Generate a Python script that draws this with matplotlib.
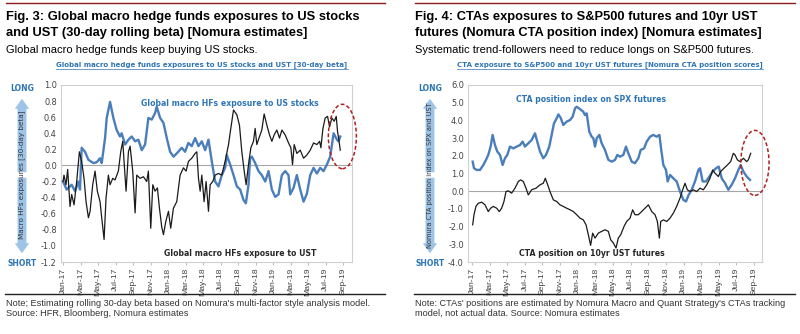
import matplotlib.pyplot as plt
from matplotlib.patches import Ellipse, FancyArrowPatch
from matplotlib.lines import Line2D

# ---------------------------------------------------------------------- #
# data (x = months since Jan-2017)

tick_labels = ['Jan-17', 'Mar-17', 'May-17', 'Jul-17', 'Sep-17', 'Nov-17',
               'Jan-18', 'Mar-18', 'May-18', 'Jul-18', 'Sep-18', 'Nov-18',
               'Jan-19', 'Mar-19', 'May-19', 'Jul-19', 'Sep-19']

# Fig. 3 - global macro HFs exposure to US stocks (blue)
hf_stk_x = [0.0, 0.42, 0.99, 1.37, 1.75, 1.94, 2.13, 2.51, 2.9, 3.47, 3.85,
            4.23, 4.42, 4.8, 4.99, 5.37, 5.75, 6.13, 6.51, 6.7, 7.09, 7.47,
            7.85, 8.23, 8.61, 8.99, 9.37, 9.75, 10.13, 10.51, 10.7, 11.09,
            11.47, 11.85, 12.23, 12.61, 12.99, 13.56, 13.94, 14.32, 14.7,
            15.09, 15.47, 15.85, 16.23, 16.61, 16.99, 17.37, 17.75, 18.13,
            18.51, 18.7, 19.09, 19.47, 19.85, 20.23, 20.61, 20.88, 21.18,
            21.37, 21.56, 21.94, 22.32, 22.7, 23.09, 23.47, 23.85, 24.23,
            24.61, 24.99, 25.37, 25.75, 25.94, 26.32, 26.7, 27.09, 27.47,
            27.85, 28.23, 28.61, 28.99, 29.37, 29.75, 30.13, 30.51, 30.9,
            31.28, 31.47, 31.66]
hf_stk_y = [-0.2, -0.3, -0.24, -0.32, -0.2, -0.3, 0.22, 0.17, 0.07, 0.03,
            0.04, 0.09, 0.03, 0.34, 0.59, 0.79, 0.59, 0.44, 0.36, 0.4, 0.26,
            0.32, 0.36, 0.3, 0.32, 0.19, 0.26, 0.59, 0.57, 0.65, 0.73, 0.59,
            0.53, 0.34, 0.17, 0.11, 0.15, 0.22, 0.17, 0.28, 0.24, 0.34, 0.24,
            0.3, 0.19, 0.32, 0.05, -0.2, -0.26, -0.12, -0.03, 0.13, 0.01,
            -0.12, -0.26, -0.3, -0.43, -0.47, -0.24, 0.09, 0.11, 0.03, -0.07,
            -0.12, -0.2, -0.07, -0.3, -0.39, -0.36, -0.12, -0.07, -0.12,
            -0.36, -0.28, -0.12, -0.3, -0.45, -0.35, -0.12, -0.03, -0.1,
            -0.03, -0.07, 0.01, 0.11, 0.4, 0.32, 0.3, 0.36]

# Fig. 3 - global macro HFs exposure to UST (black)
hf_ust_x = [0.0, 0.11, 0.34, 0.53, 0.8, 0.99, 1.26, 1.56, 1.87, 2.13, 2.4,
            2.63, 2.9, 3.09, 3.39, 3.66, 3.92, 4.23, 4.42, 4.69, 4.91, 5.18,
            5.37, 5.68, 5.94, 6.32, 6.59, 6.82, 6.97, 7.2, 7.47, 7.66, 7.96,
            8.23, 8.42, 8.8, 9.18, 9.56, 9.75, 10.02, 10.25, 10.51, 10.78,
            11.01, 11.28, 11.47, 11.73, 12.04, 12.3, 12.61, 12.99, 13.37,
            13.75, 14.06, 14.32, 14.7, 15.09, 15.28, 15.47, 15.66, 15.85,
            16.11, 16.34, 16.61, 16.8, 17.1, 17.37, 17.75, 18.13, 18.51, 18.9,
            19.16, 19.47, 19.85, 20.15, 20.42, 20.69, 20.91, 21.18, 21.45,
            21.75, 21.94, 22.13, 22.44, 22.7, 22.97, 23.28, 23.58, 23.85,
            24.11, 24.42, 24.72, 24.99, 25.37, 25.75, 26.02, 26.21, 26.4,
            26.7, 27.09, 27.47, 27.85, 28.23, 28.61, 28.99, 29.3, 29.45,
            29.68, 29.94, 30.21, 30.44, 30.7, 30.97, 31.2, 31.35, 31.5, 31.66]
hf_ust_y = [-0.2, -0.12, -0.24, -0.05, -0.51, -0.36, -0.49, -0.2, 0.17,
            0.05, -0.16, -0.45, -0.65, -0.57, -0.24, -0.07, -0.32, -0.45,
            -0.65, -0.92, -0.41, -0.12, -0.24, -0.16, -0.18, -0.07, 0.17, 0.3,
            0.05, -0.32, 0.17, 0.24, -0.07, -0.59, -0.12, -0.16, -0.14, -0.2,
            -0.07, -0.78, -0.24, -0.32, -0.28, -0.53, -0.77, -0.86, -0.7,
            -0.57, -0.78, -0.53, -0.45, -0.12, -0.03, -0.07, 0.05, 0.09, 0.15,
            0.17, -0.16, -0.32, -0.12, -0.45, -0.2, -0.57, -0.24, -0.2, -0.12,
            -0.1, -0.12, 0.05, 0.26, 0.46, 0.69, 0.63, 0.5, 0.17, -0.07,
            -0.24, 0.01, 0.22, 0.3, 0.46, 0.26, 0.36, 0.44, 0.64, 0.5, 0.38,
            0.3, 0.38, 0.44, 0.34, 0.44, 0.38, 0.28, 0.22, 0.01, 0.26, 0.15,
            0.19, 0.09, 0.13, 0.19, 0.28, 0.26, 0.3, 0.22, 0.46, 0.59, 0.61,
            0.48, 0.59, 0.55, 0.61, 0.42, 0.32, 0.19]

# Fig. 4 - CTA position index on SPX futures (blue)
cta_spx_x = [0.08, 0.23, 0.53, 0.91, 1.29, 1.59, 1.85, 2.12, 2.34, 2.61,
             2.87, 3.18, 3.48, 3.74, 4.01, 4.31, 4.69, 5.07, 5.45, 5.75, 6.01,
             6.39, 6.77, 7.15, 7.41, 7.72, 8.09, 8.4, 8.77, 9.04, 9.3, 9.61,
             9.8, 10.06, 10.36, 10.74, 11.12, 11.42, 11.69, 11.88, 12.25,
             12.63, 12.82, 13.01, 13.31, 13.58, 13.77, 13.96, 14.15, 14.45,
             14.71, 15.09, 15.47, 15.85, 16.23, 16.49, 16.79, 17.17, 17.47,
             17.74, 18.12, 18.49, 18.87, 19.14, 19.52, 19.82, 20.2, 20.57,
             20.95, 21.26, 21.45, 21.71, 22.01, 22.2, 22.47, 22.84, 23.22,
             23.6, 23.98, 24.28, 24.58, 24.92, 25.3, 25.68, 25.87, 26.17,
             26.55, 26.93, 27.31, 27.69, 27.99, 28.33, 28.71, 29.08, 29.46,
             29.84, 30.22, 30.48, 30.79, 31.16, 31.54]
cta_spx_y = [1.67, 1.3, 1.2, 1.2, 1.48, 1.77, 2.05, 2.52, 3.18, 2.61, 2.24,
             2.05, 1.48, 1.86, 2.05, 2.52, 2.42, 2.52, 2.61, 2.8, 2.52, 2.71,
             2.89, 3.27, 2.8, 2.24, 1.86, 2.05, 2.52, 3.18, 3.83, 4.12, 4.34,
             4.15, 3.74, 3.93, 4.02, 4.21, 4.68, 4.77, 4.64, 4.49, 4.3, 4.4,
             3.36, 3.08, 2.99, 2.52, 2.99, 3.18, 2.71, 2.33, 1.77, 1.67, 1.77,
             2.05, 1.95, 2.05, 2.52, 2.14, 1.67, 1.58, 1.86, 2.33, 2.42, 2.8,
             3.08, 3.18, 3.08, 3.18, 2.42, 1.48, 1.2, 0.55, 0.92, 0.73, 0.55,
             -0.02, -0.49, -0.58, -0.21, 0.08, 0.55, 1.2, 1.3, 0.55, 0.55,
             0.83, 1.11, 1.3, 1.39, 0.73, 0.45, 0.08, 0.36, 0.73, 1.2, 1.48,
             1.11, 0.83, 0.64]

# Fig. 4 - CTA position on 10yr UST futures (black)
cta_ust_x = [0.08, 0.23, 0.45, 0.72, 1.1, 1.48, 1.85, 2.12, 2.42, 2.8, 3.1,
             3.37, 3.63, 3.86, 4.12, 4.5, 4.88, 5.26, 5.52, 5.82, 6.13, 6.39,
             6.77, 7.26, 7.72, 8.09, 8.32, 8.59, 8.85, 9.23, 9.61, 9.98,
             10.36, 10.74, 11.12, 11.5, 11.88, 12.25, 12.63, 12.94, 13.2,
             13.46, 13.69, 13.96, 14.33, 14.71, 15.09, 15.47, 15.73, 16.04,
             16.34, 16.6, 16.87, 17.25, 17.55, 17.93, 18.23, 18.49, 18.87,
             19.25, 19.63, 20.01, 20.39, 20.77, 21.03, 21.26, 21.41, 21.71,
             22.09, 22.47, 22.84, 23.22, 23.6, 23.9, 24.17, 24.43, 24.74,
             25.11, 25.49, 25.87, 26.25, 26.63, 27.0, 27.31, 27.57, 27.95,
             28.21, 28.59, 28.97, 29.34, 29.65, 29.84, 30.11, 30.41, 30.79,
             31.16, 31.35, 31.62]
cta_ust_y = [-1.9, -1.33, -0.86, -0.68, -0.62, -0.77, -1.15, -0.96, -0.86,
             -0.96, -1.15, -0.96, -0.58, -0.02, 0.02, -0.11, 0.17, 0.55, 0.64,
             0.55, 0.17, -0.21, 0.08, 0.17, 0.36, 0.45, 0.73, 0.36, -0.02,
             -0.49, -0.58, -0.77, -0.86, -0.96, -1.05, -1.15, -1.33, -1.52,
             -1.62, -1.9, -2.46, -3.06, -2.37, -2.65, -2.37, -2.27, -2.18,
             -2.27, -2.74, -2.93, -3.21, -2.65, -2.46, -1.99, -1.71, -1.52,
             -1.05, -1.33, -1.33, -1.15, -0.96, -0.77, -1.15, -1.33, -1.71,
             -2.65, -1.71, -1.62, -1.71, -1.52, -1.24, -0.86, -0.39, 0.08,
             0.45, 0.08, -0.02, 0.08, -0.02, 0.17, 0.08, 0.36, 0.73, 1.2,
             1.02, 0.83, 1.11, 1.3, 1.48, 1.67, 2.14, 2.05, 1.77, 1.67, 1.86,
             1.67, 1.77, 2.14]

# ---------------------------------------------------------------------- #

BLUE = '#4A7EBB'
TBLUE = '#2E75B6'
DRED = '#8B1A1A'
W, H = 800.0, 334.0


def fx(px):
    return px / W


def fy(py):
    return 1 - py / H


fig = plt.figure(figsize=(8, 3.34), dpi=100)
fig.patch.set_facecolor('white')

panels = [
    dict(x0=6, x1=385, ax=(61, 352), xlim=(-0.23, 33.0),
         ylim=(-1.2, 1.0), ystep=0.2,
         title=['Fig. 3: Global macro hedge funds exposures to US stocks',
                'and UST (30-day rolling beta) [Nomura estimates]'],
         sub='Global macro hedge funds keep buying US stocks.',
         inner='Global macro hedge funds exposures to US stocks and UST [30-day beta]',
         inner_x=202,
         ylab='Macro HFs exposures [30-day beta]', ylab_size=5.2, arrow_x=22,
         blue=(hf_stk_x, hf_stk_y), black=(hf_ust_x, hf_ust_y),
         blue_lab=('Global macro HFs exposure to US stocks', 230, 103),
         black_lab=('Global macro HFs exposure to UST', 240, 254),
         ell=(31.9, 0.36, 3.2, 0.8),
         notes=["Note; Estimating rolling 30-day beta based on Nomura's multi-factor style analysis model.",
                'Source: HFR, Bloomberg, Nomura estimates']),
    dict(x0=415, x1=795, ax=(468, 762), xlim=(-0.45, 32.9),
         ylim=(-4.0, 6.0), ystep=1.0,
         title=['Fig. 4: CTAs exposures to S&P500 futures and 10yr UST',
                'futures (Nomura CTA position index) [Nomura estimates]'],
         sub='Systematic trend-followers need to reduce longs on S&P500 futures.',
         inner='CTA exposure to S&P500 and 10yr UST futures [Nomura CTA position scores]',
         inner_x=610,
         ylab='Nomura CTA position index on SPX and UST', ylab_size=4.8,
         arrow_x=430,
         blue=(cta_spx_x, cta_spx_y), black=(cta_ust_x, cta_ust_y),
         blue_lab=('CTA position index on SPX futures', 591, 100),
         black_lab=('CTA position on 10yr UST futures', 592, 254),
         ell=(32.1, 1.6, 3.2, 3.67),
         notes=["Note: CTAs' positions are estimated by Nomura Macro and Quant Strategy's CTAs tracking",
                'model, not actual data. Source: Nomura estimates']),
]

for p in panels:
    # header
    fig.add_artist(Line2D([fx(p['x0']), fx(p['x1'])], [fy(3), fy(3)],
                          color=DRED, lw=1.0))
    for i, line in enumerate(p['title']):
        fig.text(fx(p['x0']), fy(17 + 16 * i), line, family='Liberation Sans',
                 weight='bold', size=9.3, va='center', ha='left')
    fig.text(fx(p['x0']), fy(50), p['sub'], family='Liberation Sans',
             size=8, va='center', ha='left')
    t = fig.text(fx(p['inner_x']), fy(65), p['inner'], family='DejaVu Sans',
                 weight='bold', size=5.05, color=TBLUE, va='center', ha='center')
    r = fig.canvas.get_renderer()
    bb = t.get_window_extent(r)
    fig.add_artist(Line2D([bb.x0 / W, bb.x1 / W], [fy(69), fy(69)],
                          color=TBLUE, lw=0.5))

    # plot
    ax = fig.add_axes([fx(p['ax'][0]), fy(262), (p['ax'][1] - p['ax'][0]) / W,
                       (262 - 85) / H])
    ax.plot(*p['blue'], color=BLUE, lw=1.7, zorder=3)
    ax.plot(*p['black'], color='#1a1a1a', lw=0.9, zorder=4)
    ax.axhline(0, color='#a6a6a6', lw=0.8, zorder=1)
    ax.set_xlim(*p['xlim'])
    ax.set_ylim(*p['ylim'])
    lo, hi = p['ylim']
    n = int(round((hi - lo) / p['ystep']))
    yt = [lo + k * p['ystep'] for k in range(n + 1)]
    ax.set_yticks(yt)
    ax.set_yticklabels(['%.1f' % v for v in yt], family='DejaVu Sans',
                       size=5.9, color='#404040')
    ax.set_xticks(range(0, 33, 2))
    ax.set_xticklabels(tick_labels, rotation=90, family='Liberation Sans',
                       size=6.1, color='#404040')
    ax.tick_params(axis='y', length=0, pad=3)
    ax.tick_params(axis='x', length=2, color='#bfbfbf', pad=2)
    for s in ax.spines.values():
        s.set_color('#d0d0d0')
        s.set_linewidth(0.8)

    ex, ey, ew, eh = p['ell']
    ax.add_patch(Ellipse((ex, ey), ew, eh, fill=False, edgecolor='#B02020',
                         lw=1.1, ls=(0, (2.5, 1.5)), clip_on=False, zorder=5))

    bl, bx, by = p['blue_lab']
    fig.text(fx(bx), fy(by), bl, family='DejaVu Sans', weight='bold',
             size=5.6, color=TBLUE, ha='center', va='center')
    kl, kx, ky = p['black_lab']
    fig.text(fx(kx), fy(ky), kl, family='DejaVu Sans', weight='bold',
             size=5.6, color='#262626', ha='center', va='center')

    # LONG / SHORT arrow
    axx = p['arrow_x']
    fig.text(fx(axx), fy(88), 'LONG', family='DejaVu Sans', weight='bold',
             size=5.5, color=TBLUE, ha='center', va='center')
    fig.text(fx(axx), fy(263), 'SHORT', family='DejaVu Sans', weight='bold',
             size=5.5, color=TBLUE, ha='center', va='center')
    for ya, yb in [(175, 96), (175, 256)]:
        fig.add_artist(FancyArrowPatch(
            (fx(axx), fy(ya)), (fx(axx), fy(yb)), transform=fig.transFigure,
            arrowstyle='simple,head_width=1.3,head_length=0.9,tail_width=0.8',
            mutation_scale=8, color='#9DC3E6', lw=0))
    fig.text(fx(axx), fy(175), p['ylab'], family='DejaVu Sans',
             size=p['ylab_size'], color='#333333', rotation=90,
             ha='center', va='center')

    # footer
    fig.add_artist(Line2D([fx(p['x0'] - 1), fx(p['x1'])], [fy(294), fy(294)],
                          color='#222222', lw=1.0))
    for i, line in enumerate(p['notes']):
        fig.text(fx(p['x0']), fy(303 + 10 * i), line, family='Liberation Sans',
                 size=6.6, color='#333333', va='center', ha='left')

fig.savefig('out.png', dpi=100)
